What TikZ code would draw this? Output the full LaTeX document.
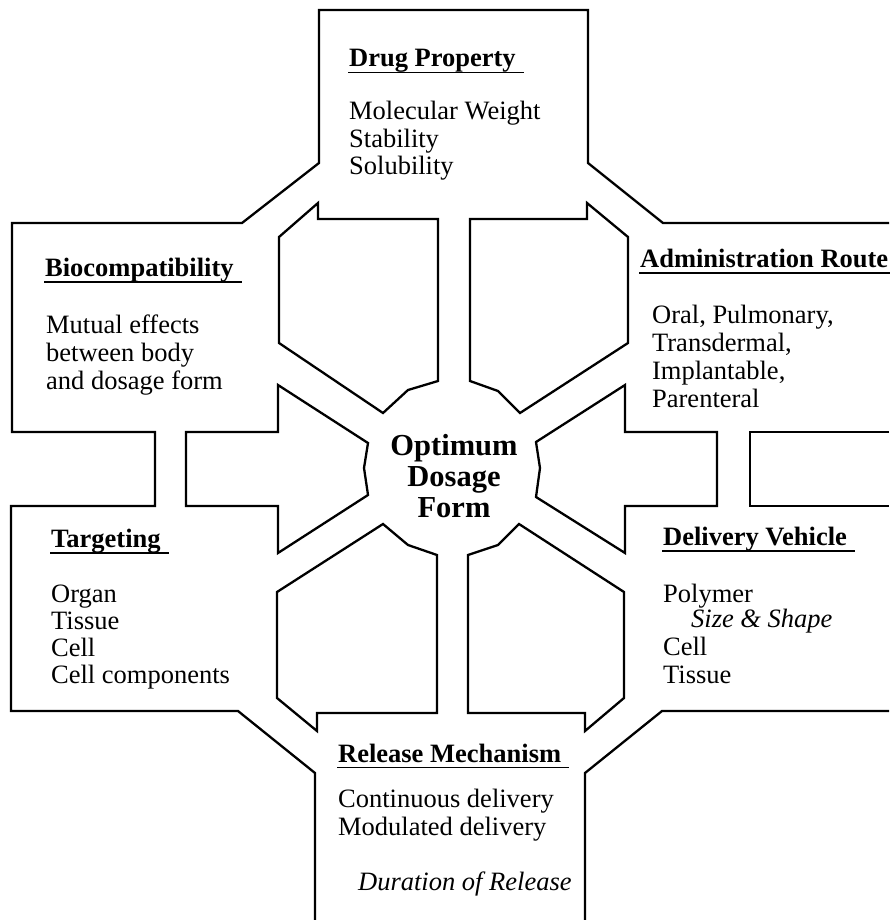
\documentclass[tikz,border=0pt]{standalone}
\usepackage{fontspec}
\setmainfont{Liberation Serif}
\begin{document}
\begin{tikzpicture}[x=1pt,y=-1pt, line width=2.3pt, line join=miter,
  txt/.style={anchor=base west, inner sep=0pt, font=\fontsize{26.5}{28}\selectfont},
  head/.style={anchor=base west, inner sep=0pt, font=\fontsize{26.5}{28}\selectfont\bfseries},
  itx/.style={anchor=base west, inner sep=0pt, font=\fontsize{26.5}{28}\selectfont\itshape},
  ctr/.style={anchor=base, inner sep=0pt, font=\fontsize{30.5}{32}\selectfont\bfseries},
  ul/.style={line width=1.8pt}]
\useasboundingbox (0,0) rectangle (889,920);

% outer outline of the boxes
\draw (315,920) -- (315,773) -- (238,711) -- (11,711) -- (11,506) -- (155,506) -- (155,432)
  -- (12,432) -- (12,223) -- (242,223) -- (319,163) -- (319,10) -- (588,10) -- (588,163)
  -- (663,223) -- (889,223);
\draw (889,432) -- (750,432) -- (750,506) -- (889,506);
\draw (889,711) -- (662,711) -- (585,773) -- (585,920);

% arrows towards the centre
\draw (279,237) -- (318,203) -- (318,219) -- (438,219) -- (438,381) -- (408,390) -- (383,413) -- (279,343) -- cycle;
\draw (628,237) -- (587,203) -- (587,219) -- (470,219) -- (470,381) -- (498,391) -- (520,413) -- (628,343) -- cycle;
\draw (186,432) -- (278,432) -- (278,385) -- (368,443) -- (364,468) -- (368,495) -- (278,553) -- (278,506) -- (186,506) -- cycle;
\draw (717,432) -- (625,432) -- (625,385) -- (536,442) -- (540,468) -- (536,497) -- (625,553) -- (625,506) -- (717,506) -- cycle;
\draw (383,524) -- (408,545) -- (437,555) -- (437,713) -- (317,713) -- (317,731) -- (277,698) -- (277,592) -- cycle;
\draw (519,524) -- (498,545) -- (468,555) -- (468,713) -- (585,713) -- (585,731) -- (624,698) -- (624,592) -- cycle;

% Drug Property
\node[head] (dph) at (348,67) {Drug Property};
\draw[ul] ([yshift=-5.5pt]dph.base west) -- ([xshift=7pt,yshift=-5.5pt]dph.base east);
\node[txt] (dp1) at (348,120) {Molecular Weight};
\node[txt] (dp2) at (348,148) {Stability};
\node[txt] (dp3) at (348,175) {Solubility};

% Biocompatibility
\node[head] (bch) at (44,276) {Biocompatibility};
\draw[ul] ([yshift=-6pt]bch.base west) -- ([xshift=7pt,yshift=-6pt]bch.base east);
\node[txt] (bc1) at (45,333) {Mutual effects};
\node[txt] (bc2) at (45,361) {between body};
\node[txt] (bc3) at (45,389) {and dosage form};

% Administration Route
\node[head] (arh) at (639,267) {Administration Route};
\draw[ul] ([yshift=-6pt]arh.base west) -- ([xshift=3pt,yshift=-6pt]arh.base east);
\node[txt] (ar1) at (651,323) {Oral, Pulmonary,};
\node[txt] (ar2) at (651,351) {Transdermal,};
\node[txt] (ar3) at (651,379) {Implantable,};
\node[txt] (ar4) at (651,407) {Parenteral};

% Centre
\node[ctr] (c1) at (454,455) {Optimum};
\node[ctr] (c2) at (454,486) {Dosage};
\node[ctr] (c3) at (454,517) {Form};

% Targeting
\node[head] (tgh) at (50,547) {Targeting};
\draw[ul] ([yshift=-6pt]tgh.base west) -- ([xshift=7pt,yshift=-6pt]tgh.base east);
\node[txt] (tg1) at (50,602) {Organ};
\node[txt] (tg2) at (50,629) {Tissue};
\node[txt] (tg3) at (50,656) {Cell};
\node[txt] (tg4) at (50,683) {Cell components};

% Delivery Vehicle
\node[head] (dvh) at (662,545) {Delivery Vehicle};
\draw[ul] ([yshift=-6pt]dvh.base west) -- ([xshift=7pt,yshift=-6pt]dvh.base east);
\node[txt] (dv1) at (662,602) {Polymer};
\node[itx] (dv2) at (690,627) {Size \& Shape};
\node[txt] (dv3) at (662,655) {Cell};
\node[txt] (dv4) at (662,683) {Tissue};

% Release Mechanism
\node[head] (rmh) at (337,762) {Release Mechanism};
\draw[ul] ([yshift=-5.5pt]rmh.base west) -- ([xshift=7pt,yshift=-5.5pt]rmh.base east);
\node[txt] (rm1) at (337,807) {Continuous delivery};
\node[txt] (rm2) at (337,835) {Modulated delivery};
\node[itx] (rm3) at (357,890) {Duration of Release};
\end{tikzpicture}
\end{document}
